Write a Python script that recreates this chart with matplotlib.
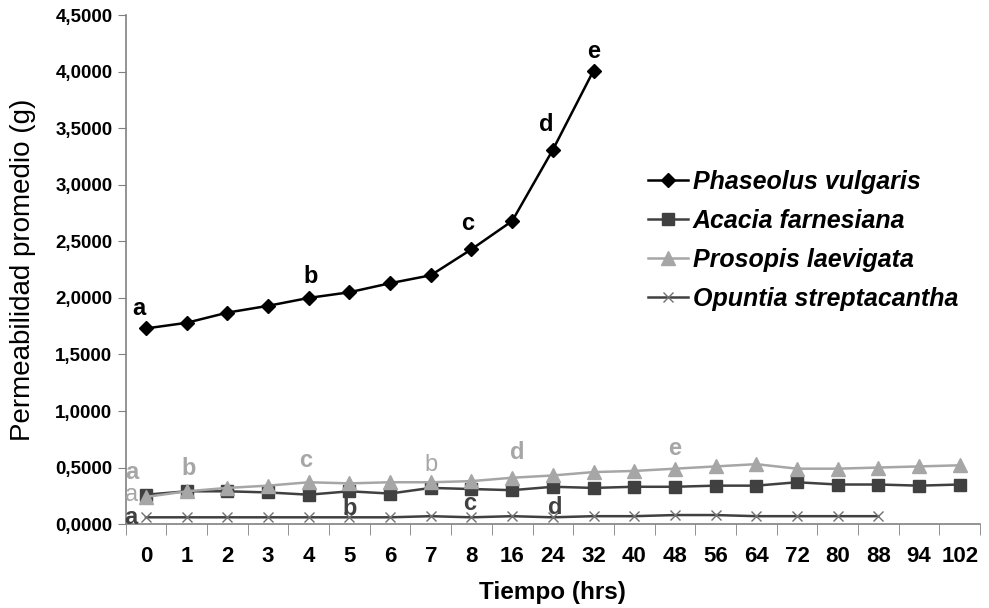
import numpy as np
import matplotlib
matplotlib.use("Agg")
import matplotlib.pyplot as plt
from matplotlib.ticker import FuncFormatter, FixedLocator

plt.rcParams['font.family'] = ['Liberation Sans', 'DejaVu Sans']

# tiempo de muestreo (hrs)
tiempo = ['0', '1', '2', '3', '4', '5', '6', '7', '8', '16', '24', '32',
          '40', '48', '56', '64', '72', '80', '88', '94', '102']

phaseolus = [1.73, 1.78, 1.87, 1.93, 2.00, 2.05, 2.13, 2.20, 2.43, 2.68, 3.31, 4.01]
acacia = [0.26, 0.29, 0.29, 0.28, 0.26, 0.29, 0.27, 0.32, 0.31, 0.30, 0.33, 0.32,
          0.33, 0.33, 0.34, 0.34, 0.37, 0.35, 0.35, 0.34, 0.35]
prosopis = [0.24, 0.29, 0.32, 0.34, 0.37, 0.36, 0.37, 0.37, 0.38, 0.41, 0.43, 0.46,
            0.47, 0.49, 0.51, 0.53, 0.49, 0.49, 0.50, 0.51, 0.52]
opuntia = [0.06, 0.06, 0.06, 0.06, 0.06, 0.06, 0.06, 0.07, 0.06, 0.07, 0.06, 0.07,
           0.07, 0.08, 0.08, 0.07, 0.07, 0.07, 0.07]

DARK = '#404040'
LIGHT = '#a6a6a6'

# letras de significancia: (serie, indice, letra, color, peso, dx, dy)
letras = [
    (phaseolus, 0, 'a', 'black', 'bold', -7, 20),
    (phaseolus, 4, 'b', 'black', 'bold', 2, 21),
    (phaseolus, 8, 'c', 'black', 'bold', -4, 26),
    (phaseolus, 10, 'd', 'black', 'bold', -7, 25),
    (phaseolus, 11, 'e', 'black', 'bold', 0, 19),
    (prosopis, 0, 'a', LIGHT, 'bold', -14, 24),
    (prosopis, 1, 'b', LIGHT, 'bold', 2, 23),
    (prosopis, 4, 'c', LIGHT, 'bold', -3, 22),
    (prosopis, 7, 'b', LIGHT, 'normal', 0, 17),
    (prosopis, 9, 'd', LIGHT, 'bold', 5, 25),
    (prosopis, 13, 'e', LIGHT, 'bold', 0, 20),
    (acacia, 0, 'a', LIGHT, 'normal', -14, 0),
    (opuntia, 0, 'a', DARK, 'bold', -15, 0),
    (opuntia, 5, 'b', DARK, 'bold', 0, 9),
    (opuntia, 8, 'c', DARK, 'bold', -2, 14),
    (opuntia, 10, 'd', DARK, 'bold', 2, 10),
]

fig = plt.figure(figsize=(9.89, 6.08), dpi=100)
ax = fig.add_axes([0.127, 0.138, 0.864, 0.837])

x = np.arange(len(tiempo))
ax.plot(x[:len(phaseolus)], phaseolus, color='black', lw=1.8, marker='D', ms=7,
        label='Phaseolus vulgaris', zorder=5)
ax.plot(x[:len(acacia)], acacia, color=DARK, lw=1.8, marker='s', ms=8,
        label='Acacia farnesiana', zorder=3)
ax.plot(x[:len(prosopis)], prosopis, color=LIGHT, lw=1.8, marker='^', ms=9.5,
        label='Prosopis laevigata', zorder=4)
ax.plot(x[:len(opuntia)], opuntia, color=DARK, lw=1.8, marker='x', ms=7.5,
        mec='#707070', mew=1.0, label='Opuntia streptacantha', zorder=3)

for serie, i, letra, col, peso, dx, dy in letras:
    ax.annotate(letra, xy=(i, serie[i]), xytext=(dx, dy), textcoords='offset pixels',
                ha='center', va='center', fontsize=17, fontweight=peso, color=col,
                zorder=6)

ax.set_xlim(-0.5, len(tiempo) - 0.5)
ax.set_ylim(0, 4.5)
ax.set_xticks(x)
ax.set_xticklabels(tiempo, fontsize=16, fontweight='bold')
ax.xaxis.set_minor_locator(FixedLocator(np.arange(-0.5, len(tiempo), 1)))
ax.tick_params(axis='x', which='major', length=0, pad=16)
ax.tick_params(axis='x', which='minor', length=8, direction='out', color='#808080')
ax.set_yticks(np.arange(0, 4.51, 0.5))
ax.yaxis.set_major_formatter(FuncFormatter(lambda v, p: f'{v:.4f}'.replace('.', ',')))
ax.tick_params(axis='y', length=6, direction='out', color='#808080', labelsize=13.5)
for lbl in ax.get_yticklabels():
    lbl.set_fontweight('bold')

for s in ['top', 'right']:
    ax.spines[s].set_visible(False)
for s in ['left', 'bottom']:
    ax.spines[s].set_color('#808080')
    ax.spines[s].set_linewidth(1.2)

ax.set_ylabel('Permeabilidad promedio (g)', fontsize=20, labelpad=14)
ax.set_xlabel('Tiempo (hrs)', fontsize=17.5, fontweight='bold', labelpad=10)

leg = ax.legend(loc='center left', bbox_to_anchor=(0.655, 0.605),
                bbox_transform=fig.transFigure, frameon=False,
                prop={'size': 18, 'style': 'italic', 'weight': 'bold'},
                handlelength=1.6, handletextpad=0.2, labelspacing=0.6,
                borderpad=0, borderaxespad=0)

fig.savefig('out.png', dpi=100)
